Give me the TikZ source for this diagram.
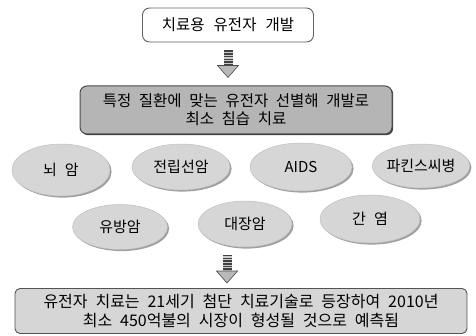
\documentclass[tikz,border=0pt]{standalone}
\usepackage{fontspec}
\newfontfamily\kr[WordSpace=2.2]{Noto Sans CJK KR}
\usetikzlibrary{shapes.geometric,shadows,calc}
\begin{document}
\begin{tikzpicture}[x=1pt,y=-1pt,font=\kr,
  titlebox/.style={draw=gray!75!black,line width=0.9pt,fill=white,rounded corners=7pt,
    minimum width=171pt,minimum height=34pt,inner sep=0pt,font=\kr\fontsize{15.5}{18}\selectfont},
  mainbox/.style={draw=gray!60!black,line width=1pt,fill=gray!58,rounded corners=7pt,
    minimum width=312pt,minimum height=48pt,inner sep=0pt,align=center,
    font=\kr\fontsize{15.5}{18}\selectfont,
    drop shadow={shadow xshift=1.2pt,shadow yshift=-1.2pt,fill=black!75,opacity=1}},
  disease/.style={ellipse,fill=gray!32,draw=gray!50,line width=0.5pt,inner sep=0pt,
    font=\kr\fontsize{15}{18}\selectfont,
    drop shadow={shadow xshift=1.6pt,shadow yshift=-1.6pt,fill=gray!75,opacity=1}},
  resultbox/.style={draw=gray!65!black,line width=0.9pt,fill=gray!32,rounded corners=5pt,
    minimum width=452pt,minimum height=45pt,inner sep=0pt,align=center,
    font=\kr\fontsize{16}{19}\selectfont},
  shaftfill/.style={fill=gray!40},
  shaftstripe/.style={draw=black!75,line width=9pt,dash pattern=on 1.5pt off 1.2pt},
  headfill/.style={fill=gray!55,draw=black!70,line width=0.6pt}
]
\useasboundingbox (0,0) rectangle (476,336);
\node[titlebox] (top) at (228,25) {치료용\hspace{9pt}유전자\hspace{9pt}개발};
\node[mainbox] (main) at (236,110) {특정 질환에 맞는 유전자 선별해 개발로\\최소 침습 치료};
\node[disease,minimum width=98pt,minimum height=52pt] (d1) at (61,170) {뇌\hspace{8pt}암};
\node[disease,minimum width=98pt,minimum height=46pt] (d2) at (181,167) {전립선암};
\node[disease,minimum width=102pt,minimum height=48pt] (d3) at (301,167) {AIDS};
\node[disease,minimum width=96pt,minimum height=44pt] (d4) at (421,166) {파킨스씨병};
\node[disease,minimum width=95pt,minimum height=45pt] (d5) at (120,227) {유방암};
\node[disease,minimum width=94pt,minimum height=46pt] (d6) at (245,224) {대장암};
\node[disease,minimum width=100pt,minimum height=48pt] (d7) at (370,219) {간\hspace{8pt}염};
\node[resultbox] (res) at (241,311) {유전자 치료는 21세기 첨단 치료기술로 등장하여 2010년\\최소 450억불의 시장이 형성될 것으로 예측됨};
% arrow 1
\coordinate (a1s) at ($(top.south -| 228,0)+(0,8)$);
\coordinate (a1e) at ($(main.north -| 228,0)+(0,-8)$);
\coordinate (a1b) at ($(a1e)+(0,-12)$);
\fill[shaftfill] ($(a1s)+(-4.5,0)$) rectangle ($(a1b)+(4.5,0)$);
\draw[shaftstripe] (a1s) -- (a1b);
\filldraw[headfill] ($(a1b)+(-10.5,0)$) -- ($(a1b)+(10.5,0)$) -- (a1e) -- cycle;
% arrow 2
\coordinate (a2s) at (227,255);
\coordinate (a2e) at ($(a2s |- res.north)+(0,-5)$);
\coordinate (a2b) at ($(a2e)+(0,-12)$);
\fill[shaftfill] ($(a2s)+(-4.5,0)$) rectangle ($(a2b)+(4.5,0)$);
\draw[shaftstripe] (a2s) -- (a2b);
\filldraw[headfill] ($(a2b)+(-10.5,0)$) -- ($(a2b)+(10.5,0)$) -- (a2e) -- cycle;
\end{tikzpicture}
\end{document}
